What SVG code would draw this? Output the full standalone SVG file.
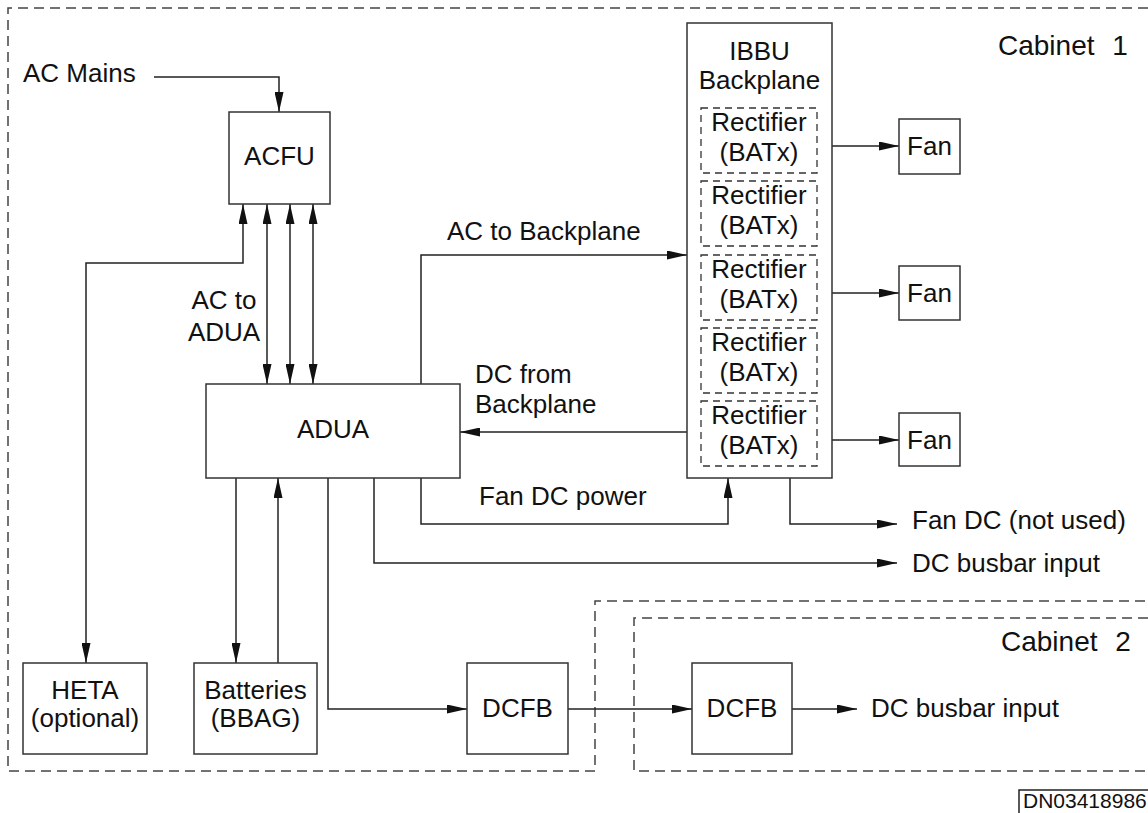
<svg xmlns="http://www.w3.org/2000/svg" width="1148" height="813" viewBox="0 0 1148 813">
<style>
  text { font-family: "Liberation Sans", Arial, sans-serif; font-size: 26px; fill: #111; }
  .mid { text-anchor: middle; }
  .cab { font-size: 28px; word-spacing: 10px; }
  .dn { font-size: 21px; }
  .box { fill: #fff; stroke: #333; stroke-width: 1.5; }
  .rect { fill: none; stroke: #333; stroke-width: 1.3; stroke-dasharray: 7 5; }
  .cabline { fill: none; stroke: #444; stroke-width: 1.5; stroke-dasharray: 10 6; }
  .wire { fill: none; stroke: #222; stroke-width: 1.5; }
</style>
<defs>
  <marker id="ah" markerUnits="userSpaceOnUse" markerWidth="20" markerHeight="9" refX="20" refY="4.5" orient="auto-start-reverse" viewBox="0 0 20 9">
    <path d="M0,0 L20,4.5 L0,9 z" fill="#111"/>
  </marker>
</defs>
<rect width="1148" height="813" fill="#fff"/>

<g id="cabinets">
  <path class="cabline" d="M1148,8 H8 V771 H595 V601 H1148"/>
  <path class="cabline" d="M1148,618 H634 V771 H1148"/>
  <text class="cab" x="998" y="55">Cabinet 1</text>
  <text class="cab" x="1001" y="651">Cabinet 2</text>
</g>

<g id="connectors">
  <path class="wire" d="M154,77 H279 V112" marker-end="url(#ah)"/>
  <path class="wire" d="M243,204 V263 H86 V663" marker-start="url(#ah)" marker-end="url(#ah)"/>
  <path class="wire" d="M267,204 V384" marker-start="url(#ah)" marker-end="url(#ah)"/>
  <path class="wire" d="M290,204 V384" marker-start="url(#ah)" marker-end="url(#ah)"/>
  <path class="wire" d="M313,204 V384" marker-start="url(#ah)" marker-end="url(#ah)"/>
  <path class="wire" d="M421,384 V255 H687" marker-end="url(#ah)"/>
  <path class="wire" d="M687,432 H460" marker-end="url(#ah)"/>
  <path class="wire" d="M832,146 H899" marker-end="url(#ah)"/>
  <path class="wire" d="M832,293 H899" marker-end="url(#ah)"/>
  <path class="wire" d="M832,440 H899" marker-end="url(#ah)"/>
  <path class="wire" d="M421,478 V524 H728 V478" marker-end="url(#ah)"/>
  <path class="wire" d="M790,478 V524 H897" marker-end="url(#ah)"/>
  <path class="wire" d="M374,478 V563 H897" marker-end="url(#ah)"/>
  <path class="wire" d="M236,478 V663" marker-end="url(#ah)"/>
  <path class="wire" d="M278,663 V478" marker-end="url(#ah)"/>
  <path class="wire" d="M328,478 V709 H467" marker-end="url(#ah)"/>
  <path class="wire" d="M568,709 H692" marker-end="url(#ah)"/>
  <path class="wire" d="M792,709 H857" marker-end="url(#ah)"/>
</g>

<g id="labels">
  <text x="23" y="82">AC Mains</text>
  <text class="mid" x="224" y="309">AC to</text>
  <text class="mid" x="224" y="341">ADUA</text>
  <text x="447" y="240">AC to Backplane</text>
  <text x="475" y="383">DC from</text>
  <text x="475" y="413">Backplane</text>
  <text x="479" y="505">Fan DC power</text>
  <text x="912" y="529">Fan DC (not used)</text>
  <text x="912" y="572">DC busbar input</text>
  <text x="871" y="717">DC busbar input</text>
</g>

<g id="ACFU">
  <rect class="box" x="229" y="112" width="101" height="92"/>
  <text class="mid" x="279.5" y="165">ACFU</text>
</g>
<g id="ADUA">
  <rect class="box" x="206" y="384" width="254" height="94"/>
  <text class="mid" x="333" y="438">ADUA</text>
</g>
<g id="IBBU">
  <rect class="box" x="687" y="23" width="145" height="455"/>
  <text class="mid" x="759.5" y="60">IBBU</text>
  <text class="mid" x="759.5" y="89">Backplane</text>
</g>
<g id="rect1">
  <rect class="rect" x="701" y="108" width="116" height="65"/>
  <text class="mid" x="759" y="131">Rectifier</text>
  <text class="mid" x="759" y="161">(BATx)</text>
</g>
<g id="rect2">
  <rect class="rect" x="701" y="181" width="116" height="65"/>
  <text class="mid" x="759" y="204">Rectifier</text>
  <text class="mid" x="759" y="234">(BATx)</text>
</g>
<g id="rect3">
  <rect class="rect" x="701" y="255" width="116" height="65"/>
  <text class="mid" x="759" y="278">Rectifier</text>
  <text class="mid" x="759" y="308">(BATx)</text>
</g>
<g id="rect4">
  <rect class="rect" x="701" y="328" width="116" height="65"/>
  <text class="mid" x="759" y="351">Rectifier</text>
  <text class="mid" x="759" y="381">(BATx)</text>
</g>
<g id="rect5">
  <rect class="rect" x="701" y="401" width="116" height="65"/>
  <text class="mid" x="759" y="424">Rectifier</text>
  <text class="mid" x="759" y="454">(BATx)</text>
</g>
<g id="fan1">
  <rect class="box" x="899" y="119" width="61" height="55"/>
  <text class="mid" x="929.5" y="155">Fan</text>
</g>
<g id="fan2">
  <rect class="box" x="899" y="266" width="61" height="54"/>
  <text class="mid" x="929.5" y="302">Fan</text>
</g>
<g id="fan3">
  <rect class="box" x="899" y="413" width="61" height="53"/>
  <text class="mid" x="929.5" y="449">Fan</text>
</g>
<g id="HETA">
  <rect class="box" x="23" y="663" width="124" height="91"/>
  <text class="mid" x="85" y="699">HETA</text>
  <text class="mid" x="85" y="727">(optional)</text>
</g>
<g id="Batteries">
  <rect class="box" x="194" y="663" width="123" height="91"/>
  <text class="mid" x="255.5" y="699">Batteries</text>
  <text class="mid" x="255.5" y="727">(BBAG)</text>
</g>
<g id="DCFB1">
  <rect class="box" x="467" y="663" width="101" height="91"/>
  <text class="mid" x="517.5" y="717">DCFB</text>
</g>
<g id="DCFB2">
  <rect class="box" x="692" y="663" width="100" height="91"/>
  <text class="mid" x="742" y="717">DCFB</text>
</g>
<g id="docnum">
  <path d="M1019,813 V790 H1148" fill="none" stroke="#222" stroke-width="1.5"/>
  <text class="dn" x="1023" y="808">DN03418986</text>
</g>
</svg>
